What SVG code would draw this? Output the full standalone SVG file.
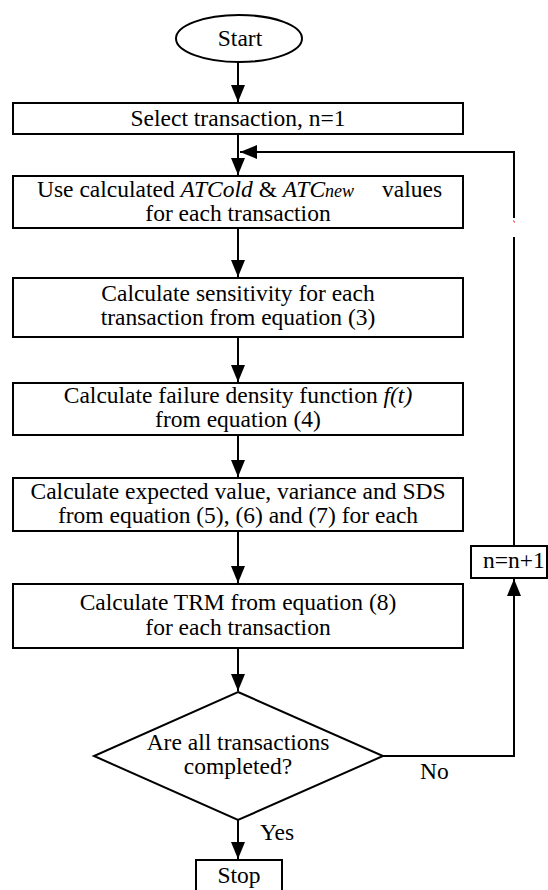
<svg xmlns="http://www.w3.org/2000/svg" width="548" height="890" viewBox="0 0 548 890">
<defs>
<style>
.box{fill:#fff;stroke:#000;stroke-width:2}
.ln{fill:none;stroke:#000;stroke-width:2}
.t{font-family:'Liberation Serif','Times New Roman',serif;font-size:47px;fill:#000}
.c{text-anchor:middle}
.i{font-style:italic}
</style>
<marker id="ah" markerUnits="userSpaceOnUse" markerWidth="18" markerHeight="15" refX="17" refY="7" orient="auto">
<path d="M0,0 L17,7 L0,14 z" fill="#000"/>
</marker>
</defs>
<rect width="548" height="890" fill="#fff"/>
<g id="connectors">
<line class="ln" x1="238" y1="62" x2="238" y2="102" marker-end="url(#ah)"/>
<line class="ln" x1="238" y1="134" x2="238" y2="175" marker-end="url(#ah)"/>
<line class="ln" x1="238" y1="228" x2="238" y2="277" marker-end="url(#ah)"/>
<line class="ln" x1="238" y1="337" x2="238" y2="382" marker-end="url(#ah)"/>
<line class="ln" x1="238" y1="435" x2="238" y2="477" marker-end="url(#ah)"/>
<line class="ln" x1="238" y1="531" x2="238" y2="583" marker-end="url(#ah)"/>
<line class="ln" x1="238" y1="648" x2="238" y2="691" marker-end="url(#ah)"/>
<line class="ln" x1="238" y1="820" x2="238" y2="859" marker-end="url(#ah)"/>
<polyline class="ln" points="383,756 514,756 514,579" marker-end="url(#ah)"/>
<line class="ln" x1="514" y1="546" x2="514" y2="237"/>
<polyline class="ln" points="514,218 514,152 240,152" marker-end="url(#ah)"/>
<line x1="513.5" y1="220.5" x2="514.5" y2="222.5" stroke="#f00" stroke-width="1"/>
<text class="t" transform="scale(0.5)" x="840" y="1558">No</text>
<text class="t" transform="scale(0.5)" x="520" y="1680">Yes</text>
</g>
<g id="start">
<ellipse class="box" cx="239" cy="38.5" rx="63" ry="23.5"/>
<text class="t c" transform="scale(0.5)" x="480" y="92">Start</text>
</g>
<g id="select">
<rect class="box" x="13" y="103" width="450" height="31"/>
<text class="t c" transform="scale(0.5)" x="476" y="252">Select transaction, n=1</text>
</g>
<g id="use">
<rect class="box" x="13" y="176" width="450" height="52"/>
<text class="t" transform="scale(0.5)" x="74" y="394">Use calculated <tspan class="i">ATCold</tspan> &amp; <tspan class="i">ATC</tspan><tspan class="i" font-size="36">new</tspan><tspan x="764">values</tspan></text>
<text class="t c" transform="scale(0.5)" x="476" y="442">for each transaction</text>
</g>
<g id="sensitivity">
<rect class="box" x="13" y="278" width="450" height="59"/>
<text class="t c" transform="scale(0.5)" x="476" y="602">Calculate sensitivity for each</text>
<text class="t c" transform="scale(0.5)" x="476" y="650">transaction from equation (3)</text>
</g>
<g id="failure">
<rect class="box" x="13" y="383" width="450" height="52"/>
<text class="t c" transform="scale(0.5)" x="476" y="806">Calculate failure density function <tspan class="i">f(t)</tspan></text>
<text class="t c" transform="scale(0.5)" x="476" y="854">from equation (4)</text>
</g>
<g id="expected">
<rect class="box" x="13" y="478" width="450" height="53"/>
<text class="t c" transform="scale(0.5)" x="476" y="998">Calculate expected value, variance and SDS</text>
<text class="t c" transform="scale(0.5)" x="476" y="1046">from equation (5), (6) and (7) for each</text>
</g>
<g id="trm">
<rect class="box" x="13" y="584" width="450" height="64"/>
<text class="t c" transform="scale(0.5)" x="476" y="1220">Calculate TRM from equation (8)</text>
<text class="t c" transform="scale(0.5)" x="476" y="1270">for each transaction</text>
</g>
<g id="decision">
<polygon class="box" points="238,692 383,756 238,820 94,756"/>
<text class="t c" transform="scale(0.5)" x="476" y="1500">Are all transactions</text>
<text class="t c" transform="scale(0.5)" x="476" y="1548">completed?</text>
</g>
<g id="increment">
<rect class="box" x="471" y="546" width="76" height="32"/>
<text class="t" transform="scale(0.5)" x="966" y="1136">n=n+1</text>
</g>
<g id="stop">
<rect class="box" x="196" y="860" width="86" height="40"/>
<text class="t c" transform="scale(0.5)" x="478" y="1766">Stop</text>
</g>
</svg>
